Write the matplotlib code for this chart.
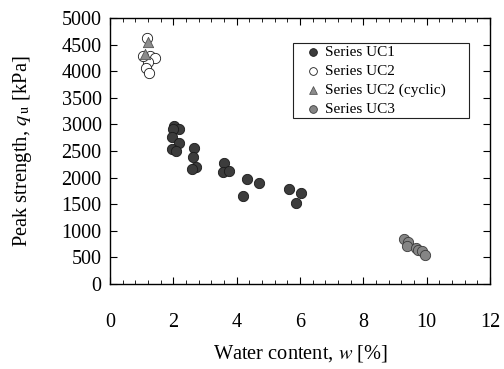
import matplotlib
matplotlib.use("Agg")
import matplotlib.pyplot as plt
from matplotlib.patches import Rectangle
from matplotlib.ticker import MultipleLocator

plt.rcParams['font.family'] = ['Liberation Serif', 'DejaVu Serif']
plt.rcParams['mathtext.fontset'] = 'stix'

# water content w [%] and peak strength qu [kPa]
uc1_w = [2.02, 2.19, 2.00, 1.95, 2.18, 1.95, 2.07, 2.65, 2.63, 2.72, 2.60,
         3.61, 3.58, 3.77, 4.32, 4.70, 4.19, 5.66, 6.02, 5.87]
uc1_q = [2975, 2913, 2913, 2769, 2645, 2532, 2500, 2551, 2393, 2194, 2162,
         2269, 2100, 2124, 1968, 1904, 1654, 1786, 1716, 1517]

uc2_w = [1.18, 1.26, 1.42, 1.21, 1.14, 1.24, 1.05]
uc2_q = [4618, 4291, 4242, 4167, 4066, 3970, 4290]

uc2c_w = [1.21, 1.10]
uc2c_q = [4554, 4318]

uc3_w = [9.29, 9.42, 9.39, 9.65, 9.72, 9.86, 9.95]
uc3_q = [846, 795, 720, 671, 639, 620, 545]

W, H = 504, 369
fig = plt.figure(figsize=(W / 100, H / 100), dpi=100)
ax = fig.add_axes([110 / W, 1 - 284 / H, 380 / W, 266 / H])

ms = 55
ax.scatter(uc1_w, uc1_q, s=ms, c='#3c3c3c', edgecolors='#1a1a1a', linewidths=0.6,
           label='Series UC1', zorder=3)
ax.scatter(uc2_w, uc2_q, s=ms, c='white', edgecolors='#1a1a1a', linewidths=0.6,
           label='Series UC2', zorder=3)
ax.scatter(uc2c_w, uc2c_q, s=ms, marker='^', c='#8c8c8c', edgecolors='#555555',
           linewidths=0.6, label='Series UC2 (cyclic)', zorder=4)
ax.scatter(uc3_w, uc3_q, s=ms, c='#858585', edgecolors='#3a3a3a', linewidths=0.6,
           label='Series UC3', zorder=3)

ax.set_xlim(0, 12)
ax.set_ylim(0, 5000)
ax.xaxis.set_major_locator(MultipleLocator(2))
ax.xaxis.set_minor_locator(MultipleLocator(0.4))
ax.yaxis.set_major_locator(MultipleLocator(500))
ax.tick_params(which='both', direction='in', top=True, right=True, labelsize=14.5)
ax.tick_params(which='major', length=5, width=0.8)
ax.tick_params(which='minor', length=3, width=0.6)
ax.tick_params(axis='x', pad=21)
ax.tick_params(axis='y', pad=6)
for sp in ax.spines.values():
    sp.set_linewidth(1.0)

ax.set_xlabel('Water content, $w$ [%]', fontsize=14.7, labelpad=8)
ax.set_ylabel(r'Peak strength, $q$$_{\,\mathrm{u}}$ [kPa]', fontsize=14.8, labelpad=20)

# legend without its own frame; the box is drawn separately for wider margins
leg = ax.legend(loc='upper left', bbox_to_anchor=(305.5 / W, 1 - 45 / H),
                bbox_transform=fig.transFigure, fontsize=11, frameon=False,
                handletextpad=0.27, markerscale=0.75, borderpad=0,
                labelspacing=0.35, handlelength=1.0, borderaxespad=0)
fig.patches.append(Rectangle((293 / W, 1 - 118 / H), 176 / W, 75 / H,
                             transform=fig.transFigure, fill=False,
                             edgecolor='#222222', linewidth=0.8))

fig.savefig('out.png', dpi=100)
